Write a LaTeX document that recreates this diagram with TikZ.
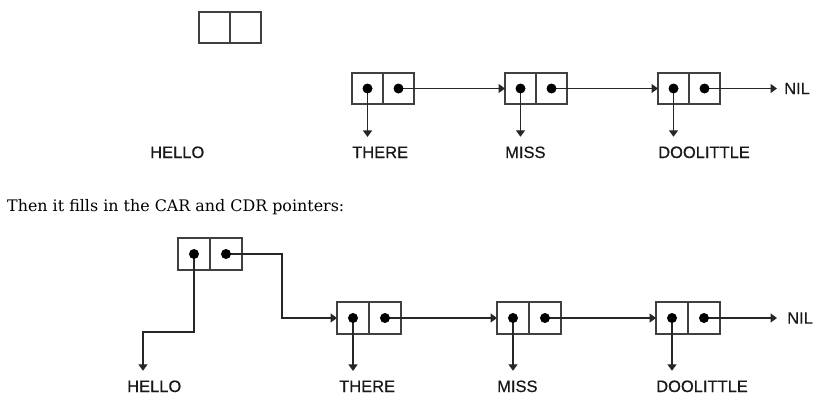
\documentclass[tikz,border=0pt]{standalone}
\usepackage{fontspec}
\setmainfont{DejaVu Serif}
\newfontfamily\lblfont[FakeBold=0.6]{Liberation Sans}
\usetikzlibrary{arrows.meta}
\begin{document}
\begin{tikzpicture}[x=1pt,y=-1pt,
  half/.style={draw=black!75, line width=1.5pt, minimum width=32pt, minimum height=32pt, inner sep=0pt, outer sep=0pt},
  halfs/.style={half, minimum width=31pt, minimum height=31pt},
  lbl/.style={font=\lblfont\fontsize{16.5}{18}\selectfont, inner sep=0pt, anchor=base west, text=black!90},
  arr/.style={draw=black!85, line width=1.4pt, -{Triangle[length=6.5pt,width=9pt]}},
  down/.style={arr, shorten >=9.5pt},
  dotr/.style={fill=black},
]
\useasboundingbox (0,0) rectangle (829,402);
% ---------- top figure ----------
\node[halfs] (e1) at (214.5,27.5) {};
\node[halfs] (e2) at (245.5,27.5) {};

\node[halfs] (a1) at (367.5,88.5) {};
\node[halfs] (a2) at (398.5,88.5) {};
\node[halfs] (b1) at (520.5,88.5) {};
\node[halfs] (b2) at (551.5,88.5) {};
\node[halfs] (c1) at (673.5,88.5) {};
\node[halfs] (c2) at (704.5,88.5) {};

\node[lbl] (hello1) at (150,158) {HELLO};
\node[lbl] (there1) at (352,158) {THERE};
\node[lbl] (miss1) at (505,158) {MISS};
\node[lbl] (dool1) at (658,158) {DOOLITTLE};
\node[lbl, anchor=west] (nil1) at (784,88.5) {NIL};

\draw[down] (a1.center) -- (a1.center |- there1.north);
\draw[down] (b1.center) -- (b1.center |- miss1.north);
\draw[down] (c1.center) -- (c1.center |- dool1.north);
\draw[arr] (a2.center) -- (b1.west);
\draw[arr] (b2.center) -- (c1.west);
\draw[arr, shorten >=7pt] (c2.center) -- (nil1.west);
\foreach \n in {a1,a2,b1,b2,c1,c2} \fill[dotr] (\n.center) circle (5pt);

% ---------- caption ----------
\node[anchor=base west, inner sep=0pt, font=\fontsize{15.9}{18}\selectfont] (cap) at (7,211) {Then it fills in the CAR and CDR pointers:};

% ---------- bottom figure ----------
\node[half] (t1) at (194,254) {};
\node[half] (t2) at (226,254) {};

\node[half] (d1) at (353,318) {};
\node[half] (d2) at (385,318) {};
\node[half] (f1) at (513,318) {};
\node[half] (f2) at (545,318) {};
\node[half] (g1) at (672,318) {};
\node[half] (g2) at (704,318) {};

\node[lbl] (hello2) at (127,392) {HELLO};
\node[lbl] (there2) at (339,392) {THERE};
\node[lbl] (miss2) at (497,392) {MISS};
\node[lbl] (dool2) at (656,392) {DOOLITTLE};
\node[lbl, anchor=west] (nil2) at (787,318) {NIL};

\coordinate (hk) at (143,332);
\draw[arr, shorten >=9.5pt] (t1.center) |- (hk) -- (hk |- hello2.north);
\draw[arr] (t2.center) -- ++(56,0) |- (d1.west);
\draw[down] (d1.center) -- (d1.center |- there2.north);
\draw[down] (f1.center) -- (f1.center |- miss2.north);
\draw[down] (g1.center) -- (g1.center |- dool2.north);
\draw[arr] (d2.center) -- (f1.west);
\draw[arr] (f2.center) -- (g1.west);
\draw[arr, shorten >=10pt] (g2.center) -- (nil2.west);
\foreach \n in {t1,t2,d1,d2,f1,f2,g1,g2} \fill[dotr] (\n.center) circle (5pt);
\end{tikzpicture}
\end{document}
